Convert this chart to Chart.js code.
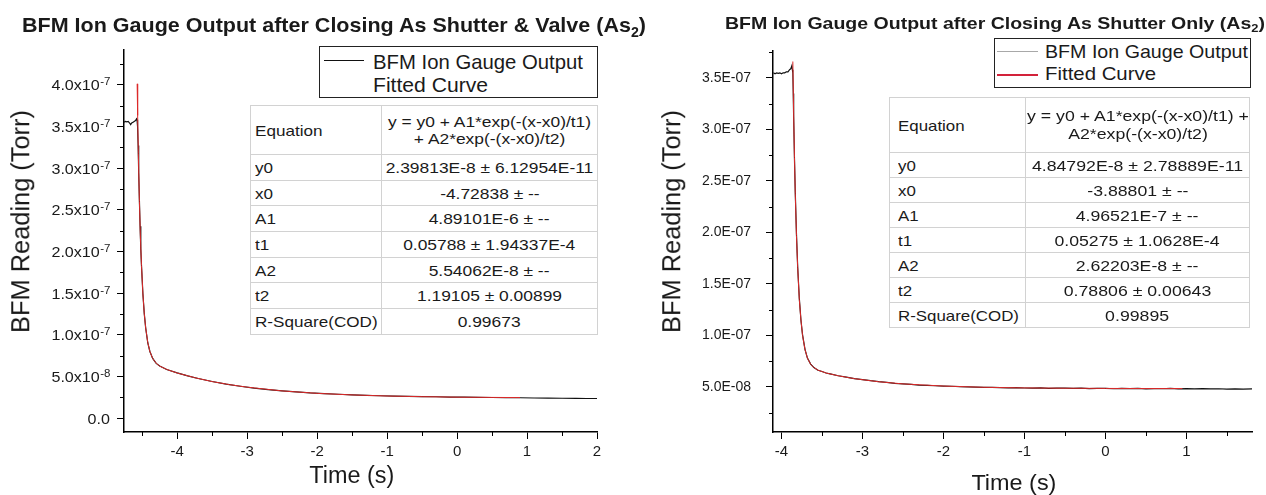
<!DOCTYPE html>
<html>
<head>
<meta charset="utf-8">
<title>BFM Ion Gauge Output</title>
<script src="https://cdn.jsdelivr.net/npm/chart.js@4.4.1/dist/chart.umd.min.js"></script>
<style>
  body { margin: 0; background: #fff; }
  #page { position: relative; width: 1266px; height: 495px; overflow: hidden;
          font-family: "Liberation Sans", Arial, sans-serif; color: #1a1a1a; }
  canvas { position: absolute; top: 0; }
  .txt { position: absolute; white-space: nowrap; }
  .sub { font-size: 0.66em; position: relative; top: 0.32em; }
  .legend { position: absolute; border: 1px solid #222; background: #fff; box-sizing: border-box; }
  .swatch { position: absolute; height: 2px; }
  table.fit { position: absolute; border-collapse: collapse; border: 1.5px solid #8c8c8c;
              background: #fff; table-layout: fixed; }
  table.fit td { border: 1px solid #d2d2d2; padding: 0; vertical-align: middle; white-space: nowrap; }
  table.fit td.k { text-align: left; }
  table.fit td.v { text-align: center; }
  table.fit td span { display: inline-block; }
</style>
</head>
<body>
<div id="page">
  <canvas id="leftChart" width="633" height="495" style="left:0"></canvas>
  <canvas id="rightChart" width="633" height="495" style="left:633px"></canvas>
</div>
<script>
// ---------- values ----------
const seriesNames = ['BFM Ion Gauge Output', 'Fitted Curve'];
const fitKeys = ['y0', 'x0', 'A1', 't1', 'A2', 't2', 'R-Square(COD)'];

// left panel: shutter & valve closed
const leftDataX = [-4.76, -4.74, -4.72, -4.70, -4.68, -4.665, -4.65, -4.63, -4.61, -4.595, -4.58, -4.574,
  -4.566, -4.558, -4.55, -4.54, -4.53, -4.52, -4.51, -4.49, -4.47, -4.45, -4.42, -4.39, -4.35, -4.30,
  -4.25, -4.15, -4.0, -3.85, -3.7, -3.5, -3.3, -3.1, -2.9, -2.7, -2.5, -2.3, -2.1, -1.9, -1.7, -1.5,
  -1.3, -1.1, -0.9, -0.7, -0.5, -0.3, -0.1, 0.1, 0.3, 0.5, 0.7, 0.9, 1.1, 1.3, 1.5, 1.7, 1.85, 2.0];
const leftDataY = [3.55e-7, 3.56e-7, 3.555e-7, 3.56e-7, 3.54e-7, 3.52e-7, 3.54e-7, 3.55e-7, 3.56e-7, 3.57e-7, 3.59e-7, 3.58e-7,
  3.50e-7, 3.27e-7, 2.95e-7, 2.62e-7, 2.30e-7, 2.03e-7, 1.83e-7, 1.49e-7, 1.25e-7, 1.08e-7, 9.0e-8, 7.98e-8, 7.15e-8, 6.55e-8,
  6.25e-8, 5.82e-8, 5.41e-8, 5.06e-8, 4.74e-8, 4.38e-8, 4.06e-8, 3.81e-8, 3.58e-8, 3.40e-8, 3.25e-8, 3.13e-8, 3.01e-8, 2.93e-8, 2.85e-8, 2.78e-8,
  2.71e-8, 2.67e-8, 2.63e-8, 2.60e-8, 2.56e-8, 2.55e-8, 2.51e-8, 2.50e-8, 2.47e-8, 2.46e-8, 2.45e-8, 2.43e-8, 2.40e-8, 2.38e-8, 2.37e-8, 2.35e-8, 2.34e-8, 2.34e-8];
const leftFitX = [-4.572, -4.565, -4.555, -4.54, -4.525, -4.51, -4.49, -4.47, -4.45, -4.42, -4.39, -4.35, -4.30,
  -4.25, -4.15, -4.0, -3.75, -3.5, -3.25, -3.0, -2.5, -2.0, -1.5, -1.0, -0.5, 0, 0.5, 0.9];
const leftFitY = [4.01e-7, 3.63e-7, 3.17e-7, 2.60e-7, 2.16e-7, 1.83e-7, 1.49e-7, 1.25e-7, 1.08e-7, 9.05e-8, 7.98e-8, 7.14e-8, 6.57e-8,
  6.23e-8, 5.83e-8, 5.40e-8, 4.84e-8, 4.37e-8, 4.00e-8, 3.70e-8, 3.25e-8, 2.96e-8, 2.77e-8, 2.64e-8, 2.56e-8, 2.50e-8, 2.47e-8, 2.45e-8];
const leftFitVals = ['2.39813E-8 ± 6.12954E-11', '-4.72838 ± --', '4.89101E-6 ± --', '0.05788 ± 1.94337E-4',
  '5.54062E-8 ± --', '1.19105 ± 0.00899', '0.99673'];
const leftEquation = ['y = y0 + A1*exp(-(x-x0)/t1)', '+ A2*exp(-(x-x0)/t2)'];
const leftXMinor = [-4.5, -3.5, -2.5, -1.5, -0.5, 0.5, 1.5];
const leftYMinor = [2.5e-8, 7.5e-8, 1.25e-7, 1.75e-7, 2.25e-7, 2.75e-7, 3.25e-7, 3.75e-7, 4.25e-7];

// right panel: shutter only
const rightDataX = [-4.10, -4.08, -4.06, -4.04, -4.02, -4.00, -3.98, -3.96, -3.94, -3.92, -3.90, -3.885, -3.872, -3.866,
  -3.86, -3.855, -3.85, -3.84, -3.83, -3.815, -3.80, -3.78, -3.76, -3.74, -3.71, -3.68, -3.64, -3.60, -3.55, -3.5, -3.45, -3.4,
  -3.3, -3.2, -3.1, -3.0, -2.9, -2.8, -2.7, -2.6, -2.5, -2.4, -2.3, -2.2, -2.1, -2.0, -1.9, -1.8, -1.7, -1.6, -1.5, -1.4,
  -1.3, -1.2, -1.1, -1.0, -0.9, -0.8, -0.7, -0.6, -0.5, -0.4, -0.3, -0.2, -0.1, 0, 0.1, 0.2, 0.3, 0.4, 0.5, 0.6, 0.7,
  0.8, 0.9, 1.0, 1.1, 1.2, 1.3, 1.4, 1.5, 1.6, 1.7, 1.81];
const rightDataY = [3.55e-7, 3.54e-7, 3.55e-7, 3.545e-7, 3.55e-7, 3.54e-7, 3.55e-7, 3.55e-7, 3.56e-7, 3.56e-7, 3.58e-7, 3.59e-7, 3.62e-7, 3.58e-7,
  3.55e-7, 3.35e-7, 3.13e-7, 2.72e-7, 2.39e-7, 1.98e-7, 1.66e-7, 1.36e-7, 1.15e-7, 1.005e-7, 8.66e-8, 7.80e-8, 7.22e-8, 6.88e-8, 6.63e-8, 6.50e-8, 6.36e-8, 6.28e-8,
  6.09e-8, 5.95e-8, 5.81e-8, 5.72e-8, 5.61e-8, 5.52e-8, 5.45e-8, 5.36e-8, 5.31e-8, 5.25e-8, 5.19e-8, 5.16e-8, 5.12e-8, 5.09e-8, 5.07e-8, 5.03e-8, 5.02e-8, 4.99e-8, 4.97e-8, 4.96e-8,
  4.94e-8, 4.92e-8, 4.93e-8, 4.90e-8, 4.89e-8, 4.91e-8, 4.87e-8, 4.88e-8, 4.89e-8, 4.86e-8, 4.88e-8, 4.84e-8, 4.87e-8, 4.86e-8, 4.83e-8, 4.87e-8, 4.84e-8, 4.86e-8, 4.82e-8, 4.85e-8, 4.83e-8,
  4.86e-8, 4.81e-8, 4.84e-8, 4.82e-8, 4.85e-8, 4.81e-8, 4.83e-8, 4.80e-8, 4.82e-8, 4.79e-8, 4.81e-8];
const rightFitX = [-3.860, -3.85, -3.84, -3.83, -3.815, -3.80, -3.78, -3.76, -3.74, -3.71, -3.68, -3.64, -3.60,
  -3.55, -3.45, -3.3, -3.1, -2.8, -2.5, -2.0, -1.5, -1.0, -0.5, 0, 0.5, 0.95];
const rightFitY = [3.66e-7, 3.15e-7, 2.73e-7, 2.38e-7, 1.97e-7, 1.66e-7, 1.35e-7, 1.15e-7, 1.00e-7, 8.64e-8, 7.81e-8, 7.21e-8, 6.88e-8,
  6.64e-8, 6.36e-8, 6.09e-8, 5.81e-8, 5.51e-8, 5.30e-8, 5.09e-8, 4.97e-8, 4.91e-8, 4.88e-8, 4.86e-8, 4.85e-8, 4.85e-8];
const rightFitVals = ['4.84792E-8 ± 2.78889E-11', '-3.88801 ± --', '4.96521E-7 ± --', '0.05275 ± 1.0628E-4',
  '2.62203E-8 ± --', '0.78806 ± 0.00643', '0.99895'];
const rightEquation = ['y = y0 + A1*exp(-(x-x0)/t1) +', 'A2*exp(-(x-x0)/t2)'];
const rightXMinor = [-3.5, -2.5, -1.5, -0.5, 0.5, 1.5];
const rightYMinor = [2.5e-8, 7.5e-8, 1.25e-7, 1.75e-7, 2.25e-7, 2.75e-7, 3.25e-7, 3.75e-7];

const FONT = '"Liberation Sans", Arial, sans-serif';
Chart.defaults.font.family = FONT;
Chart.defaults.color = '#1a1a1a';

// minor ticks + "x10^n" tick labels for the left panel
const axisExtras = {
  id: 'axisExtras',
  afterDraw(chart, args, o) {
    const ctx = chart.ctx, a = chart.chartArea;
    const xs = chart.scales.x, ys = chart.scales.y;
    ctx.save();
    ctx.strokeStyle = '#000';
    ctx.lineWidth = 1;
    o.xMinor.forEach(v => {
      const px = Math.round(xs.getPixelForValue(v)) + 0.5;
      ctx.beginPath(); ctx.moveTo(px, a.bottom); ctx.lineTo(px, a.bottom + 4); ctx.stroke();
    });
    o.yMinor.forEach(v => {
      const py = Math.round(ys.getPixelForValue(v)) + 0.5;
      ctx.beginPath(); ctx.moveTo(a.left, py); ctx.lineTo(a.left - 4, py); ctx.stroke();
    });
    if (o.powerLabels) {
      ctx.fillStyle = '#1a1a1a';
      ctx.textBaseline = 'alphabetic';
      ctx.textAlign = 'left';
      const right = a.left - 14;
      ys.ticks.forEach(t => {
        const py = ys.getPixelForValue(t.value);
        ctx.font = '14px ' + FONT;
        if (Math.abs(t.value) < 1e-12) {
          const w = ctx.measureText('0.0').width * 1.15;
          ctx.save(); ctx.translate(right - w, py + 5.5); ctx.scale(1.15, 1);
          ctx.fillText('0.0', 0, 0); ctx.restore();
          return;
        }
        const [m, e] = t.value.toExponential(1).split('e');
        const bw = ctx.measureText(m + 'x10').width * 1.15;
        ctx.font = '10px ' + FONT;
        const sw = ctx.measureText(e).width * 1.15;
        const x0 = right - bw - sw;
        ctx.save(); ctx.translate(x0, py + 5.5); ctx.scale(1.15, 1);
        ctx.font = '14px ' + FONT; ctx.fillText(m + 'x10', 0, 0); ctx.restore();
        ctx.save(); ctx.translate(x0 + bw + 0.5, py + 0.5); ctx.scale(1.15, 1);
        ctx.font = '10px ' + FONT; ctx.fillText(e, 0, 0); ctx.restore();
      });
    }
    ctx.restore();
  }
};

function sciE(v) {
  const [m, e] = v.toExponential(1).split('e');
  return m + 'E-' + String(-e).padStart(2, '0');
}

function buildChart(id, o) {
  return new Chart(document.getElementById(id), {
    type: 'line',
    data: {
      datasets: [
        { label: seriesNames[1], data: o.fitX.map((x, i) => ({ x, y: o.fitY[i] })),
          borderColor: '#dd2a2a', borderWidth: 1, pointRadius: 0, order: 0 },
        { label: seriesNames[0], data: o.dataX.map((x, i) => ({ x, y: o.dataY[i] })),
          borderColor: '#111', borderWidth: 1.2, pointRadius: 0, order: 1 }
      ]
    },
    options: {
      responsive: false,
      animation: false,
      devicePixelRatio: 1,
      layout: { padding: o.padding },
      plugins: {
        legend: { display: false },
        tooltip: { enabled: false },
        axisExtras: { xMinor: o.xMinor, yMinor: o.yMinor, powerLabels: o.powerLabels }
      },
      scales: {
        x: {
          type: 'linear', min: o.xMin, max: o.xMax,
          afterFit: s => { s.height = 63; },
          border: { color: '#000', width: 1.5 },
          grid: { drawOnChartArea: false, tickLength: 7, tickColor: '#000', tickWidth: 1 },
          ticks: { stepSize: 1, includeBounds: false, padding: 4, maxRotation: 0, font: { size: 15 } }
        },
        y: {
          type: 'linear', min: o.yMin, max: o.yMax,
          afterFit: s => { s.width = o.yWidth; },
          border: { color: '#000', width: 1.5 },
          grid: { drawOnChartArea: false, tickLength: 7, tickColor: '#000', tickWidth: 1 },
          ticks: { stepSize: 5e-8, includeBounds: false, padding: 15, font: { size: 14 },
                   callback: o.yLabel }
        }
      }
    },
    plugins: [axisExtras]
  });
}

buildChart('leftChart', {
  dataX: leftDataX, dataY: leftDataY, fitX: leftFitX, fitY: leftFitY,
  xMin: -4.76, xMax: 2, yMin: -1.68e-8, yMax: 4.416e-7,
  xMinor: leftXMinor, yMinor: leftYMinor, powerLabels: true,
  padding: { top: 50, right: 36, left: 0, bottom: 0 }, yWidth: 124,
  yLabel: () => ''
});
buildChart('rightChart', {
  dataX: rightDataX, dataY: rightDataY, fitX: rightFitX, fitY: rightFitY,
  xMin: -4.105, xMax: 1.81, yMin: 6.3e-9, yMax: 3.762e-7,
  xMinor: rightXMinor, yMinor: rightYMinor, powerLabels: false,
  padding: { top: 51, right: 14, left: 0, bottom: 0 }, yWidth: 140,
  yLabel: v => sciE(v)
});

// ---------- text overlays ----------
const page = document.getElementById('page');

// y = cap centre; w = target width (optional horizontal fit)
function addText(html, o) {
  const el = document.createElement('div');
  el.className = 'txt';
  el.innerHTML = html;
  el.style.fontSize = o.size + 'px';
  el.style.lineHeight = o.size + 'px';
  if (o.bold) el.style.fontWeight = 'bold';
  page.appendChild(el);
  const nat = el.getBoundingClientRect().width;
  const sx = o.w ? o.w / nat : 1;
  el.style.left = (o.align === 'center' ? o.x - nat / 2 : o.x) + 'px';
  el.style.top = (o.y - 0.4885 * o.size) + 'px';
  el.style.transformOrigin = o.align === 'center' ? '50% 50%' : '0 50%';
  el.style.transform = (o.rotate ? 'rotate(-90deg) ' : '') + 'scaleX(' + sx + ')';
  return el;
}

addText('BFM Ion Gauge Output after Closing As Shutter &amp; Valve (As<span class="sub">2</span>)',
  { x: 22, y: 24.5, size: 21, bold: true, w: 624 });
addText('BFM Ion Gauge Output after Closing As Shutter Only (As<span class="sub">2</span>)',
  { x: 725, y: 23, size: 17, bold: true, w: 540 });

addText('Time (s)', { x: 352, y: 475, size: 23, align: 'center', w: 85 });
addText('Time (s)', { x: 1014, y: 482.5, size: 22, align: 'center', w: 85 });
addText('BFM Reading (Torr)', { x: 21, y: 221, size: 25, align: 'center', rotate: true, w: 223 });
addText('BFM Reading (Torr)', { x: 672, y: 221, size: 25, align: 'center', rotate: true, w: 223 });

function addLegend(o) {
  const box = document.createElement('div');
  box.className = 'legend';
  Object.assign(box.style, { left: o.left + 'px', top: o.top + 'px', width: o.width + 'px', height: o.height + 'px' });
  page.appendChild(box);
  o.rows.forEach((r, i) => {
    if (r.color) {
      const s = document.createElement('div');
      s.className = 'swatch';
      Object.assign(s.style, { left: o.lineX0 + 'px', top: (r.y - 1) + 'px', width: (o.lineX1 - o.lineX0) + 'px',
        height: r.h + 'px', background: r.color });
      page.appendChild(s);
    }
    addText(seriesNames[i], { x: o.textX, y: r.textY, size: o.size, w: r.w });
  });
}

addLegend({ left: 319, top: 46, width: 279, height: 52, lineX0: 324, lineX1: 364, textX: 373, size: 21,
  rows: [{ y: 61, textY: 61, color: '#111', h: 1, w: 210 }, { y: 85, textY: 84, color: null, w: 115 }] });
addLegend({ left: 994, top: 38, width: 257, height: 50, lineX0: 997, lineX1: 1038, textX: 1045, size: 19,
  rows: [{ y: 52, textY: 51, color: '#a8a8a8', h: 1, w: 203 }, { y: 75, textY: 73.5, color: '#d3223a', h: 2, w: 111 }] });

function addTable(o) {
  const t = document.createElement('table');
  t.className = 'fit';
  Object.assign(t.style, { left: o.left + 'px', top: o.top + 'px', width: o.width + 'px', fontSize: o.size + 'px' });
  const k = txt => `<td class="k" style="padding-left:${o.padL}px"><span style="transform:scaleX(${o.kScale});transform-origin:0 50%">${txt}</span></td>`;
  const v = (txt, lh) => `<td class="v"><span style="transform:scaleX(${o.vScale});line-height:${lh}px">${txt}</span></td>`;
  let html = `<colgroup><col style="width:${o.col1}px"><col></colgroup>`;
  html += `<tr style="height:${o.eqH}px">${k('Equation')}${v(o.eq.join('<br>'), o.eqLine)}</tr>`;
  fitKeys.forEach((name, i) => {
    html += `<tr style="height:${o.rowH}px">${k(name)}${v(o.vals[i], o.size + 2)}</tr>`;
  });
  t.innerHTML = html;
  page.appendChild(t);
}

addTable({ left: 250, top: 105, width: 348, col1: 131, eqH: 49, rowH: 25.7, size: 15, padL: 4,
  kScale: 1.14, vScale: 1.16, eqLine: 17.5, eq: leftEquation, vals: leftFitVals });
addTable({ left: 889, top: 97, width: 361, col1: 136, eqH: 55, rowH: 25, size: 15, padL: 8,
  kScale: 1.125, vScale: 1.18, eqLine: 18, eq: rightEquation, vals: rightFitVals });
</script>
</body>
</html>
